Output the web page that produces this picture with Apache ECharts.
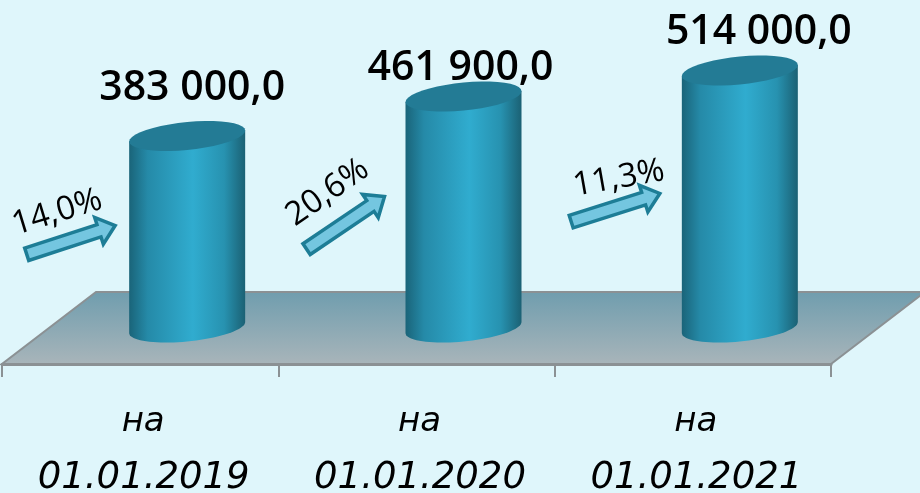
<!DOCTYPE html>
<html>
<head>
<meta charset="utf-8">
<style>
  html, body { margin: 0; padding: 0; background: #dff6fb; }
  #chart { width: 920px; height: 493px; }
</style>
<script src="https://cdn.jsdelivr.net/npm/echarts@6/dist/echarts.min.js"></script>
</head>
<body>
<div id="chart"></div>
<script>
const categories = ["на\n01.01.2019", "на\n01.01.2020", "на\n01.01.2021"];
const values = [383000.0, 461900.0, 514000.0];
const growth = ["14,0%", "20,6%", "11,3%"];

// floor and cylinder look, the chart is a fake 3d one
const depthX = 47, floorBackX = 94, floorBackY = 72;
const radiusX = 58, radiusY = 14, tilt = 0.095;
// value labels were moved by hand in the original
const labelShift = [{ dx: 5, dy: -48 }, { dx: -3, dy: -28 }, { dx: 19, dy: -38 }];
// arrows: dx/dy of the tip from the band centre on the zero line, angle in degrees
const arrows = [
  { dx: -25, dy: -102, angle: 18, len: 93, textDx: -83, textDy: -115, textRot: -17 },
  { dx: -32, dy: -131, angle: 34, len: 94, textDx: -89, textDy: -135, textRot: -35 },
  { dx: -33, dy: -134, angle: 17.6, len: 93, textDx: -74, textDy: -149, textRot: -10 }
];

function fmt(v) {
  return v.toFixed(1).replace(".", ",").replace(/\B(?=(\d{3})(?!\d))/g, " ");
}

function ellipsePoints(cx, cy, from, to) {
  const pts = [];
  for (let k = 0; k <= 40; k++) {
    const t = from + (to - from) * k / 40;
    const x = radiusX * Math.cos(t);
    pts.push([cx + x, cy + radiusY * Math.sin(t) - tilt * x]);
  }
  return pts;
}

function renderCylinder(params, api) {
  const i = api.value(0);
  const top = api.coord([i, api.value(1)]);
  const base = api.coord([i, 0]);
  const cx = top[0] + depthX;
  const a = arrows[i];
  const s = labelShift[i];

  // body outline: down the left side, along the front of the base, back up the right
  const body = [[cx - radiusX, top[1] + tilt * radiusX]]
    .concat(ellipsePoints(cx, base[1], Math.PI, 0))
    .concat([[cx + radiusX, top[1] - tilt * radiusX]]);

  const rad = -a.angle * Math.PI / 180;
  const tip = [base[0] + a.dx, base[1] + a.dy];
  const ux = Math.cos(rad), uy = Math.sin(rad);
  const at = (along, side) => [
    tip[0] - ux * along - uy * side,
    tip[1] - uy * along + ux * side
  ];
  const arrow = [
    at(0, 0), at(17, 14), at(17, 6.5), at(a.len, 6.5),
    at(a.len, -6.5), at(17, -6.5), at(17, -14)
  ];

  return {
    type: "group",
    children: [
      {
        type: "polygon",
        shape: { points: body },
        style: {
          fill: new echarts.graphic.LinearGradient(0, 0, 1, 0, [
            { offset: 0, color: "#1a6479" },
            { offset: 0.16, color: "#258aa8" },
            { offset: 0.55, color: "#30accf" },
            { offset: 0.82, color: "#2792b0" },
            { offset: 1, color: "#1b6174" }
          ])
        }
      },
      {
        type: "polygon",
        shape: { points: ellipsePoints(cx, top[1], 0, Math.PI * 2) },
        style: { fill: "#237b95" }
      },
      {
        type: "text",
        style: {
          x: cx + s.dx, y: top[1] + s.dy,
          text: fmt(api.value(1)),
          fill: "#000",
          font: "600 41px 'Open Sans'",
          align: "center",
          verticalAlign: "middle"
        }
      },
      {
        type: "polygon",
        shape: { points: arrow },
        style: { fill: "#74c6e0", stroke: "#1d7d96", lineWidth: 3.5, lineJoin: "miter" }
      },
      {
        type: "text",
        x: base[0] + a.textDx,
        y: base[1] + a.textDy,
        rotation: -a.textRot * Math.PI / 180,
        style: {
          x: 0, y: 0,
          text: growth[i],
          fill: "#000",
          font: "33px 'Open Sans'",
          align: "center",
          verticalAlign: "middle"
        }
      }
    ]
  };
}

// one item only, spans the whole axis
function renderFloor(params, api) {
  const rect = params.coordSys;
  const y = rect.y + rect.height;
  const x0 = rect.x, x1 = rect.x + rect.width;
  return {
    type: "polygon",
    shape: {
      points: [
        [x0, y], [x1, y],
        [x1 + floorBackX, y - floorBackY], [x0 + floorBackX, y - floorBackY]
      ]
    },
    style: {
      fill: new echarts.graphic.LinearGradient(0, 0, 0, 1, [
        { offset: 0, color: "#6f9dae" },
        { offset: 1, color: "#a9b5ba" }
      ]),
      stroke: "#8b9194",
      lineWidth: 2
    },
    silent: true
  };
}

const chart = echarts.init(document.getElementById("chart"), null, { renderer: "canvas" });
chart.setOption({
  animation: false,
  backgroundColor: "#dff6fb",
  grid: { left: 2, right: 89, top: 0, bottom: 129, outerBoundsMode: "none" },
  xAxis: {
    type: "category",
    data: categories,
    boundaryGap: true,
    z: 5,
    axisLine: { show: true, onZero: false, lineStyle: { color: "#8b9194", width: 3 } },
    axisTick: { show: true, length: 13, lineStyle: { color: "#8b9194", width: 2 } },
    axisLabel: {
      margin: 31,
      interval: 0,
      formatter: (v) => {
        const parts = v.split("\n");
        return "{a|" + parts[0] + "}\n{b|" + parts[1] + "}";
      },
      rich: {
        a: {
          color: "#000", fontFamily: "DejaVu Sans", fontStyle: "italic",
          fontSize: 34, lineHeight: 55, padding: [0, 0, 0, 6]
        },
        b: {
          color: "#000", fontFamily: "DejaVu Sans", fontStyle: "italic",
          fontSize: 37, lineHeight: 57, padding: [0, 0, 0, 7]
        }
      }
    }
  },
  yAxis: {
    type: "value",
    min: -73000,
    max: 655000,
    show: false
  },
  series: [
    {
      type: "custom",
      renderItem: renderFloor,
      data: [[0]],
      clip: false,
      z: 1
    },
    {
      type: "custom",
      renderItem: renderCylinder,
      data: values.map((v, i) => [i, v]),
      clip: false,
      z: 2
    }
  ]
});
window.addEventListener("resize", () => {
  chart.resize();
});
</script>
</body>
</html>
